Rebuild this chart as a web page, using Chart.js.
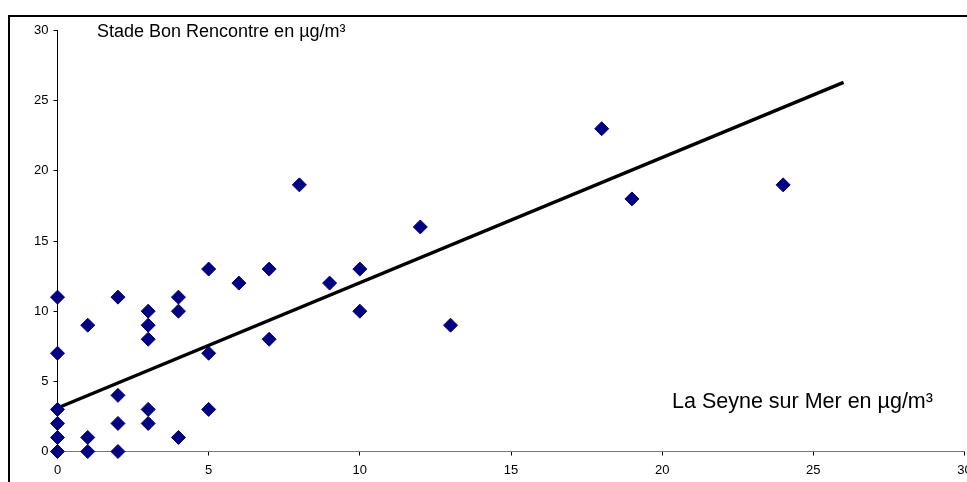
<!DOCTYPE html>
<html>
<head>
<meta charset="utf-8">
<script src="https://cdn.jsdelivr.net/npm/chart.js@4.4.0/dist/chart.umd.min.js"></script>
<style>
html,body{margin:0;padding:0;background:#fff;}
canvas{display:block;}
</style>
</head>
<body>
<canvas id="c" width="967" height="482"></canvas>
<script>
// Data
const scatterX = [0,0,0,0,0,0, 1,1,1, 2,2,2,2, 3,3,3,3,3, 4,4,4, 5,5,5, 6, 7,7, 8, 9, 10,10, 12, 13, 18, 19, 24];
const scatterY = [0,1,2,3,7,11, 0,1,9, 0,2,4,11, 2,3,8,9,10, 1,10,11, 3,7,13, 12, 8,13, 19, 12, 10,13, 16, 9, 23, 18, 19];
const trendX = [0, 26];
const trendY = [3.1, 26.3];
const tickValues = [0,5,10,15,20,25,30];
const yTitle = 'Stade Bon Rencontre en µg/m³';
const xTitle = 'La Seyne sur Mer en µg/m³';

const FONT = '"Liberation Sans", Arial, sans-serif';

const framePlugin = {
  id: 'framePlugin',
  afterDraw(chart) {
    const ctx = chart.ctx;
    ctx.save();
    ctx.strokeStyle = '#000';
    ctx.lineWidth = 2;
    ctx.strokeRect(9, 16, 975, 480);
    ctx.fillStyle = '#000';
    ctx.textBaseline = 'alphabetic';
    ctx.textAlign = 'left';
    ctx.font = '18px ' + FONT;
    ctx.fillText(yTitle, 97, 37);
    ctx.font = '21.5px ' + FONT;
    ctx.fillText(xTitle, 672, 408);
    ctx.restore();
  }
};

new Chart(document.getElementById('c'), {
  type: 'scatter',
  data: {
    datasets: [
      {
        label: 'points',
        data: scatterX.map((x, i) => ({x: x, y: scatterY[i]})),
        pointStyle: 'rectRot',
        pointRadius: 7,
        pointHoverRadius: 7,
        backgroundColor: '#000080',
        borderColor: '#000080',
        borderWidth: 1,
        showLine: false,
        clip: false,
        order: 1
      },
      {
        label: 'trend',
        data: trendX.map((x, i) => ({x: x, y: trendY[i]})),
        showLine: true,
        borderColor: '#000',
        borderWidth: 3.5,
        pointRadius: 0,
        fill: false,
        clip: false,
        order: 2
      }
    ]
  },
  options: {
    responsive: false,
    animation: false,
    events: [],
    layout: {autoPadding: false, padding: {left: 10, top: 30.5, right: 2.5, bottom: 0}},
    plugins: {legend: {display: false}, tooltip: {enabled: false}},
    scales: {
      x: {
        type: 'linear', min: 0, max: 30,
        afterBuildTicks(s) { s.ticks = tickValues.map(v => ({value: v})); },
        afterFit(s) { s.height = 30.5; s.paddingLeft = 0; s.paddingRight = 0; },
        grid: {drawOnChartArea: false, drawTicks: true, tickLength: 4, tickColor: '#000'},
        border: {display: true, color: '#777', width: 1},
        ticks: {color: '#000', font: {family: FONT, size: 13}, padding: 7, maxRotation: 0, autoSkip: false}
      },
      y: {
        type: 'linear', min: 0, max: 30,
        afterBuildTicks(s) { s.ticks = tickValues.map(v => ({value: v})); },
        afterFit(s) { s.width = 47.5; s.paddingTop = 0; s.paddingBottom = 0; },
        grid: {drawOnChartArea: false, drawTicks: true, tickLength: 4, tickColor: '#000'},
        border: {display: true, color: '#000', width: 1},
        ticks: {color: '#000', font: {family: FONT, size: 13}, padding: 5, autoSkip: false}
      }
    }
  },
  plugins: [framePlugin]
});
</script>
</body>
</html>
